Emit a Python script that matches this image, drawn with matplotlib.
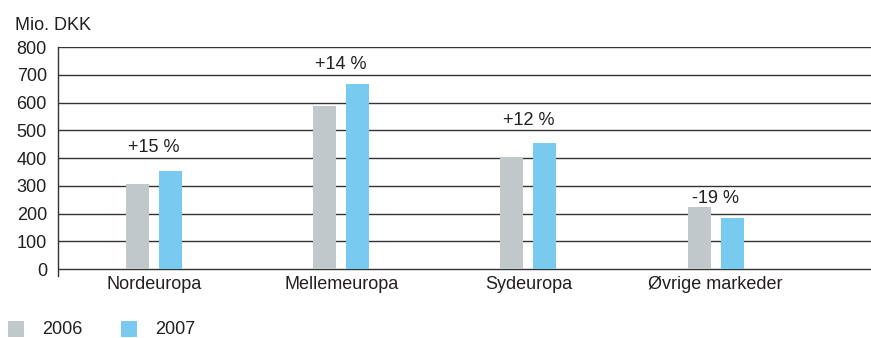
import matplotlib
matplotlib.use("Agg")
import matplotlib.pyplot as plt
import numpy as np

categories = ["Nordeuropa", "Mellemeuropa", "Sydeuropa", "Øvrige markeder"]
series_names = ["2006", "2007"]
values_2006 = [306, 587, 404, 223]
values_2007 = [353, 667, 454, 184]
change_labels = ["+15 %", "+14 %", "+12 %", "-19 %"]
yticks = [0, 100, 200, 300, 400, 500, 600, 700, 800]

label_offsets_px = [24, 19, 23, 9]

plt.rcParams['font.family'] = ['Liberation Sans', 'DejaVu Sans']
txt = '#231F20'
c06 = '#C1C8C9'
c07 = '#78CBEF'
fs = 13

W, H = 871, 338
fig = plt.figure(figsize=(W/100, H/100), dpi=100)
ax_left, ax_right = 58/W, 1.0
ax_top = 1 - 47/H
ax_bottom = 1 - 276/H
ax = fig.add_axes([ax_left, ax_bottom, ax_right-ax_left, ax_top-ax_bottom])

x = np.arange(len(categories))
bw = 0.123
gap = 0.0535
ax.bar(x - (bw+gap)/2, values_2006, bw, color=c06, zorder=3)
ax.bar(x + (bw+gap)/2, values_2007, bw, color=c07, zorder=3)

for yv in yticks:
    ax.axhline(yv, color='#333333', lw=1.0, zorder=1)

for i, lab in enumerate(change_labels):
    top = max(values_2006[i], values_2007[i])
    ax.annotate(lab, (x[i], top), xytext=(0, label_offsets_px[i]),
                textcoords='offset pixels', ha='center', va='center',
                fontsize=fs, color=txt)

ax.set_xlim(-0.513, 3.83)
ax.set_ylim(-25, 800)
ax.set_yticks(yticks)
ax.set_yticklabels([str(v) for v in yticks], fontsize=fs, color=txt)
ax.set_xticks(x)
ax.set_xticklabels(categories, fontsize=fs, color=txt)
ax.tick_params(axis='y', length=0, pad=8)
ax.tick_params(axis='x', length=0, pad=0)
for s in ['top', 'right', 'bottom']:
    ax.spines[s].set_visible(False)
ax.spines['left'].set_color('#333333')
ax.spines['left'].set_linewidth(1.0)

fig.text(15/W, 1 - 25/H, "Mio. DKK", fontsize=fs, color=txt, ha='left', va='center')

# legend
from matplotlib.patches import Rectangle
for (lx, tx, col, name) in [(8, 42, c06, series_names[0]), (121, 155, c07, series_names[1])]:
    fig.patches.append(Rectangle((lx/W, 1 - 337/H), 16/W, 16/H, transform=fig.transFigure,
                                 facecolor=col, edgecolor='none'))
    fig.text(tx/W, 1 - 329/H, name, fontsize=fs, color=txt, ha='left', va='center')

fig.savefig("out.png", dpi=100)
